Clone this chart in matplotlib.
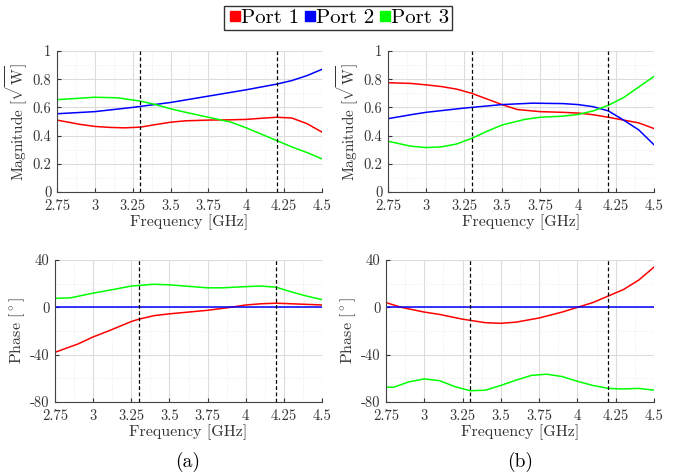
import matplotlib.pyplot as plt
from matplotlib.lines import Line2D

plt.rcParams['font.family'] = ['cmr10', 'DejaVu Serif']
plt.rcParams['mathtext.fontset'] = 'cm'
plt.rcParams['axes.formatter.use_mathtext'] = True

# (a) magnitude
fa_r = [2.75, 2.9, 3.0, 3.1, 3.2, 3.3, 3.4, 3.5, 3.6, 3.75, 3.9, 4.0, 4.1, 4.2, 4.3, 4.4, 4.5]
ma_r = [0.51, 0.48, 0.465, 0.458, 0.455, 0.46, 0.478, 0.495, 0.505, 0.51, 0.512, 0.515, 0.523, 0.53, 0.525, 0.485, 0.425]
fa_b = [2.75, 3.0, 3.25, 3.5, 3.75, 4.0, 4.2, 4.3, 4.4, 4.5]
ma_b = [0.555, 0.57, 0.60, 0.635, 0.68, 0.725, 0.765, 0.79, 0.825, 0.87]
fa_g = [2.75, 2.9, 3.0, 3.15, 3.3, 3.4, 3.5, 3.6, 3.75, 3.9, 4.0, 4.1, 4.2, 4.3, 4.4, 4.5]
ma_g = [0.655, 0.665, 0.672, 0.668, 0.645, 0.62, 0.59, 0.565, 0.53, 0.495, 0.455, 0.41, 0.365, 0.32, 0.28, 0.235]

# (b) magnitude
fb_r = [2.75, 2.9, 3.0, 3.1, 3.2, 3.3, 3.4, 3.5, 3.6, 3.75, 3.9, 4.0, 4.1, 4.2, 4.3, 4.4, 4.5]
mb_r = [0.775, 0.77, 0.76, 0.748, 0.73, 0.70, 0.66, 0.62, 0.585, 0.57, 0.565, 0.56, 0.548, 0.53, 0.51, 0.49, 0.45]
fb_b = [2.75, 2.9, 3.0, 3.25, 3.5, 3.7, 3.9, 4.0, 4.1, 4.2, 4.3, 4.4, 4.5]
mb_b = [0.52, 0.548, 0.565, 0.595, 0.62, 0.63, 0.627, 0.62, 0.605, 0.575, 0.51, 0.44, 0.335]
fb_g = [2.75, 2.9, 3.0, 3.1, 3.2, 3.3, 3.4, 3.5, 3.65, 3.75, 3.9, 4.0, 4.1, 4.2, 4.3, 4.4, 4.5]
mb_g = [0.36, 0.325, 0.315, 0.32, 0.34, 0.38, 0.43, 0.475, 0.515, 0.53, 0.538, 0.55, 0.575, 0.615, 0.67, 0.745, 0.82]

# (a) phase
pa_fr = [2.75, 2.9, 3.0, 3.1, 3.25, 3.3, 3.4, 3.5, 3.75, 3.9, 4.0, 4.1, 4.2, 4.3, 4.5]
pa_r = [-38, -31, -25, -20, -12, -10, -7, -5.5, -2.5, 0, 2, 3, 3.5, 3, 2]
pa_fb = [2.75, 4.5]
pa_b = [0, 0]
pa_fg = [2.75, 2.85, 3.0, 3.15, 3.25, 3.4, 3.5, 3.65, 3.75, 3.85, 4.0, 4.1, 4.2, 4.3, 4.4, 4.5]
pa_g = [7.6, 8, 12, 15.5, 18, 19.5, 19, 17.5, 16.5, 16.5, 17.5, 18, 17, 13, 9.5, 6.5]

# (b) phase
pb_fr = [2.75, 2.85, 3.0, 3.1, 3.25, 3.4, 3.5, 3.6, 3.75, 3.9, 4.0, 4.1, 4.2, 4.3, 4.4, 4.5]
pb_r = [4, 0, -4, -6, -10, -13, -13.5, -12.5, -9, -4, 0, 4, 9.5, 15, 23, 34]
pb_fb = [2.75, 4.5]
pb_b = [0, 0]
pb_fg = [2.75, 2.8, 2.9, 3.0, 3.1, 3.2, 3.3, 3.4, 3.5, 3.6, 3.7, 3.8, 3.9, 4.0, 4.1, 4.2, 4.3, 4.4, 4.5]
pb_g = [-67.5, -67.5, -63, -60.5, -62, -67, -70.5, -70, -66, -61.5, -57.5, -56.5, -58.5, -62.5, -66, -68.5, -69, -68.5, -70]

markers = [3.3, 4.2]
xticks = [2.75, 3, 3.25, 3.5, 3.75, 4, 4.25, 4.5]
xticklabels = ['2.75', '3', '3.25', '3.5', '3.75', '4', '4.25', '4.5']
mag_ticks = [0, 0.2, 0.4, 0.6, 0.8, 1]
mag_labels = ['0', '0.2', '0.4', '0.6', '0.8', '1']
ph_ticks = [-80, -40, 0, 40]
ph_labels = ['-80', '-40', '0', '40']

fig = plt.figure(figsize=(6.75, 4.74), dpi=100)
W, H = 675, 474
def box(l, t, r, b):
    return [l / W, 1 - b / H, (r - l) / W, (b - t) / H]

ax1 = fig.add_axes(box(57, 51, 322, 192))
ax2 = fig.add_axes(box(388, 51, 654, 192))
ax3 = fig.add_axes(box(55, 260, 322, 402))
ax4 = fig.add_axes(box(386, 260, 654, 402))

data = [
    (ax1, [(fa_r, ma_r), (fa_b, ma_b), (fa_g, ma_g)]),
    (ax2, [(fb_r, mb_r), (fb_b, mb_b), (fb_g, mb_g)]),
    (ax3, [(pa_fr, pa_r), (pa_fb, pa_b), (pa_fg, pa_g)]),
    (ax4, [(pb_fr, pb_r), (pb_fb, pb_b), (pb_fg, pb_g)]),
]
cols = ['#ff0000', '#0000ff', '#00ff00']

for i, (ax, series) in enumerate(data):
    for (x, y), c in zip(series, cols):
        ax.plot(x, y, color=c, lw=1.1)
    for m in markers:
        ax.axvline(m, color='k', ls=(0, (3, 2)), lw=0.9)
    ax.set_xlim(2.75, 4.5)
    ax.set_xticks(xticks)
    ax.set_xticklabels(xticklabels)
    ax.set_xticks([2.875, 3.125, 3.375, 3.625, 3.875, 4.125, 4.375], minor=True)
    if i < 2:
        ax.set_ylim(0, 1)
        ax.set_yticks(mag_ticks)
        ax.set_yticklabels(mag_labels)
        ax.set_yticks([0.1, 0.3, 0.5, 0.7, 0.9], minor=True)
        ax.set_ylabel(r'Magnitude [$\sqrt{\mathrm{W}}$]', fontsize=11, color='#333333', labelpad=2)
    else:
        ax.set_ylim(-80, 40)
        ax.set_yticks(ph_ticks)
        ax.set_yticklabels(ph_labels)
        ax.set_yticks([-60, -20, 20], minor=True)
        ax.set_ylabel(r'Phase $[^\circ]$', fontsize=11.5, color='#333333', labelpad=2)
    ax.set_xlabel('Frequency [GHz]', fontsize=11.5, color='#333333', labelpad=1)
    ax.grid(True, which='major', color='#dcdcdc', lw=0.8)
    ax.grid(True, which='minor', color='#e8e8e8', lw=0.6, ls=':')
    ax.set_axisbelow(True)
    ax.tick_params(which='both', direction='in', length=3, labelsize=10.5, colors='#333333')
    ax.tick_params(axis='x', pad=5)
    ax.tick_params(axis='y', pad=4)
    ax.tick_params(which='minor', length=0)
    for s in ['top', 'right']:
        ax.spines[s].set_visible(False)
    for s in ['left', 'bottom']:
        ax.spines[s].set_color('#444444')
        ax.spines[s].set_linewidth(0.8)

fig.text(188 / W, 1 - 462 / H, '(a)', fontsize=14, ha='center', va='center')
fig.text(520 / W, 1 - 462 / H, '(b)', fontsize=14, ha='center', va='center')

handles = [Line2D([], [], color=c, marker='s', ls='none', markersize=6.5) for c in cols]
fig.legend(handles, ['Port 1', 'Port 2', 'Port 3'], loc='center', bbox_to_anchor=(338 / W, 1 - 18 / H),
           ncol=3, fontsize=15, frameon=True, fancybox=False, edgecolor='k', handletextpad=-0.1,
           columnspacing=0.1, handlelength=0.8, borderpad=0.15, borderaxespad=0)

fig.savefig('out.png', dpi=100)
